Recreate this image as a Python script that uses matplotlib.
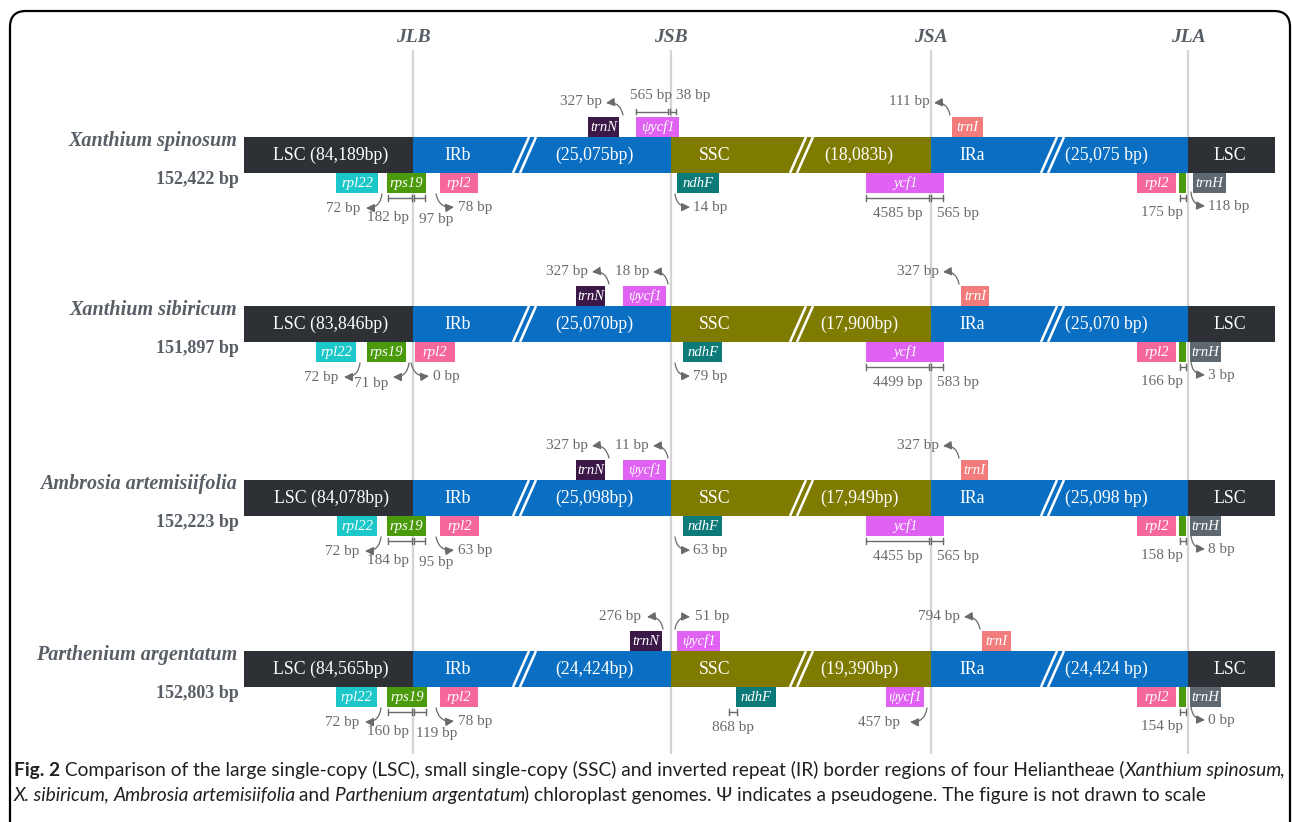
import matplotlib
matplotlib.use("Agg")
import matplotlib.pyplot as plt
from matplotlib.patches import Rectangle, FancyBboxPatch, FancyArrowPatch

# ---------------- data ----------------
species = ["Xanthium spinosum", "Xanthium sibiricum",
           "Ambrosia artemisiifolia", "Parthenium argentatum"]
genome_size = ["152,422 bp", "151,897 bp", "152,223 bp", "152,803 bp"]
lsc_len = ["84,189", "83,846", "84,078", "84,565"]
ir_len = ["25,075", "25,070", "25,098", "24,424"]
ssc_label = ["(18,083b)", "(17,900bp)", "(17,949bp)", "(19,390bp)"]
junctions = ["JLB", "JSB", "JSA", "JLA"]

trnN_bp = [327, 327, 327, 276]
psi_ycf1_top_bp = [(565, 38), (18,), (11,), (51,)]
trnI_bp = [111, 327, 327, 794]
rpl22_bp = [72, 72, 72, 72]
rps19_bp = [(182, 97), (71,), (184, 95), (160, 119)]
rpl2_bp = [78, 0, 63, 78]
ndhF_bp = [14, 79, 63, 868]
ycf1_bp = [(4585, 565), (4499, 583), (4455, 565), (457,)]
rpl2_jla_bp = [175, 166, 158, 154]
trnH_bp = [118, 3, 8, 0]

# ---------------- layout (pixel space) ----------------
W, H = 1292, 822
row_top = [137, 306, 480, 651]
BAR_H = 36
GENE_H = 20
x_start, x_end = 244, 1275
x_junc = [413, 671, 931, 1188]

trnN_x = [(588, 619), (576, 605), (576, 605), (630, 662)]
psi_top_x = [(636, 679), (623, 666), (623, 666), (677, 720)]
trnI_x = [(952, 983), (961, 989), (961, 988), (982, 1011)]
rpl22_x = [(336, 378), (316, 356), (337, 377), (336, 377)]
rps19_x = [(387, 426), (367, 406), (387, 426), (387, 427)]
rpl2_x = [(440, 478), (415, 455), (440, 479), (440, 478)]
ndhF_x = [(677, 719), (683, 722), (683, 722), (736, 776)]
ycf1_x = [(866, 944), (866, 944), (866, 944), (886, 924)]
trnH_x = [(1193, 1226), (1190, 1221), (1190, 1221), (1190, 1221)]

C_LSC = "#2d3135"
C_IR = "#0a6fc2"
C_SSC = "#7f7b00"
C_TRNN = "#3c1848"
C_YCF1 = "#e062f2"
C_TRNI = "#f27c7c"
C_RPL22 = "#1cc7c9"
C_RPS19 = "#4a9a0c"
C_RPL2 = "#f6689b"
C_NDHF = "#0c7a78"
C_TRNH = "#5d6870"
C_NOTE = "#6a6a6a"
C_HEAD = "#585e66"
C_VLINE = "#d4d4d4"

SERIF = ["Liberation Serif", "DejaVu Serif"]
FS_NOTE = 11.0
FS_GENE = 10.5
FS_BAR = 12.8

fig = plt.figure(figsize=(W / 100, H / 100), dpi=100)
ax = fig.add_axes([0, 0, 1, 1])
ax.set_xlim(0, W)
ax.set_ylim(H, 0)
ax.axis("off")

# outer frame (open at the bottom)
ax.add_patch(FancyBboxPatch((10, 11), 1280, 900,
                            boxstyle="round,pad=0,rounding_size=16",
                            fill=False, ec="black", lw=1.6, zorder=1))

# junction lines and titles
for name, xj in zip(junctions, x_junc):
    ax.plot([xj, xj], [50, 754], color=C_VLINE, lw=1.6, zorder=1,
            solid_capstyle="butt")
    ax.text(xj, 37, name, ha="center", va="center", fontsize=14,
            fontweight="bold", fontstyle="italic", color=C_HEAD, family=SERIF)


def gene(x0, x1, y0, color, label):
    ax.add_patch(Rectangle((x0, y0), x1 - x0, GENE_H, fc=color, ec="none",
                           zorder=4))
    if label:
        ax.text((x0 + x1) / 2, y0 + GENE_H / 2 + 0.5, label, ha="center",
                va="center", color="white", fontsize=FS_GENE,
                fontstyle="italic", family=SERIF, zorder=5)


def note(x, y, s, ha="center"):
    ax.text(x, y, s, ha=ha, va="center", fontsize=FS_NOTE, color=C_NOTE,
            family=SERIF, zorder=6)


def curved(x0, y0, x1, y1, rad):
    ax.add_patch(FancyArrowPatch((x0, y0), (x1, y1),
                                 connectionstyle=f"arc3,rad={rad}",
                                 arrowstyle="-|>,head_length=0.5,head_width=0.25",
                                 mutation_scale=10, color=C_NOTE, lw=0.9,
                                 shrinkA=0, shrinkB=0, zorder=6))


def bracket(x0, x1, y, tick=3.5):
    ax.plot([x0, x1], [y, y], color=C_NOTE, lw=1.0, zorder=6)
    for xx in (x0, x1):
        ax.plot([xx, xx], [y - tick, y + tick], color=C_NOTE, lw=1.0, zorder=6)


def slash(xb, t):
    for off in (0, 7):
        ax.plot([xb + off, xb + off + 16], [t + BAR_H, t], color="white",
                lw=1.8, zorder=3, solid_capstyle="butt")


def bp(v):
    return f"{v} bp"


for i, t in enumerate(row_top):
    b = t + BAR_H
    mid = t + BAR_H / 2
    # species names
    ax.text(237, t + 4, species[i], ha="right", va="center", fontsize=14.5,
            fontweight="bold", fontstyle="italic", color=C_HEAD, family=SERIF)
    ax.text(197, t + 42, genome_size[i], ha="center", va="center",
            fontsize=13.0, fontweight="bold", color=C_HEAD, family=SERIF)

    # genome bar segments
    segs = [(x_start, x_junc[0], C_LSC), (x_junc[0], x_junc[1], C_IR),
            (x_junc[1], x_junc[2], C_SSC), (x_junc[2], x_junc[3], C_IR),
            (x_junc[3], x_end, C_LSC)]
    for x0, x1, c in segs:
        ax.add_patch(Rectangle((x0, t), x1 - x0, BAR_H, fc=c, ec="none",
                               zorder=2))
    for xb in (513, 790, 1041):
        slash(xb, t)

    lab = dict(ha="center", va="center", color="white", fontsize=FS_BAR,
               family=SERIF, zorder=5)
    ax.text(331, mid, f"LSC ({lsc_len[i]}bp)", **lab)
    ax.text(458, mid, "IRb", **lab)
    ax.text(594, mid, f"({ir_len[i]}bp)", **lab)
    ax.text(715, mid, "SSC", **lab)
    ax.text(859, mid, ssc_label[i], **lab)
    ax.text(972, mid, "IRa", **lab)
    ax.text(1106, mid, f"({ir_len[i]} bp)", **lab)
    ax.text(1230, mid, "LSC", **lab)

    # genes above the bar
    gt = t - GENE_H
    gene(*trnN_x[i], gt, C_TRNN, "trnN")
    gene(*psi_top_x[i], gt, C_YCF1, "ψycf1")
    gene(*trnI_x[i], gt, C_TRNI, "trnI")

    ty = t - 35
    # trnN
    nx1 = trnN_x[i][1]
    if i == 3:
        curved(nx1 + 1, t - 22, nx1 - 15, ty + 1, 0.45)
        note(nx1 - 21, ty, bp(trnN_bp[i]), ha="right")
    else:
        curved(nx1 + 4, t - 22, nx1 - 13, ty + 1, 0.45)
        note(nx1 - 17, ty, bp(trnN_bp[i]), ha="right")
    # psi-ycf1 on top
    p0, p1 = psi_top_x[i]
    if len(psi_ycf1_top_bp[i]) == 2:
        by = t - 25
        bracket(p0, x_junc[1] - 3, by, tick=2.5)
        bracket(x_junc[1] - 1, x_junc[1] + 5, by, tick=2.5)
        note((p0 + x_junc[1]) / 2 - 2, t - 42, bp(psi_ycf1_top_bp[i][0]))
        note(x_junc[1] + 5, t - 42, bp(psi_ycf1_top_bp[i][1]), ha="left")
    elif i == 3:
        curved(p0 - 2, t - 22, p0 + 13, ty + 1, -0.45)
        note(p0 + 18, ty, bp(psi_ycf1_top_bp[i][0]), ha="left")
    else:
        curved(p1 + 2, t - 22, p1 - 13, ty + 1, 0.45)
        note(p1 - 17, ty, bp(psi_ycf1_top_bp[i][0]), ha="right")
    # trnI
    ix0 = trnI_x[i][0]
    curved(ix0 - 2, t - 22, ix0 - 18, ty + 1, 0.45)
    note(ix0 - 22, ty, bp(trnI_bp[i]), ha="right")

    # genes below the bar
    gene(*rpl22_x[i], b, C_RPL22, "rpl22")
    gene(*rps19_x[i], b, C_RPS19, "rps19")
    gene(*rpl2_x[i], b, C_RPL2, "rpl2")
    gene(*ndhF_x[i], b, C_NDHF, "ndhF")
    gene(*ycf1_x[i], b, C_YCF1, "ψycf1" if i == 3 else "ycf1")
    gene(1137, 1176, b, C_RPL2, "rpl2")
    gene(1179, 1186, b, C_RPS19, "")
    gene(*trnH_x[i], b, C_TRNH, "trnH")

    sy = b + 21          # arrow start just under the gene boxes
    ay = b + 35          # arrow tips and their labels
    by = b + 25          # bracket line
    bty = b + 40         # bracket labels

    # rpl22
    r1 = rpl22_x[i][1]
    curved(r1 + 4, sy, r1 - 12, ay, -0.45)
    note(r1 - 18, ay, bp(rpl22_bp[i]), ha="right")
    # rps19
    s0, s1 = rps19_x[i]
    if len(rps19_bp[i]) == 2:
        bracket(s0 + 1, x_junc[0] - 1, by, tick=3)
        bracket(x_junc[0] + 1, s1 - 1, by, tick=3)
        note(s0 + 1, b + 44, bp(rps19_bp[i][0]))
        note(s1 + 10, b + 46, bp(rps19_bp[i][1]))
    else:
        curved(s1 + 3, sy, s1 - 13, ay, -0.45)
        note(s1 - 35, b + 41, bp(rps19_bp[i][0]))
    # rpl2 in IRb
    q0 = rpl2_x[i][0]
    curved(q0 - 4, sy, q0 + 14, ay - 1, 0.45)
    note(q0 + 18, ay - 1, bp(rpl2_bp[i]), ha="left")
    # ndhF
    if i == 3:
        bracket(729, 737, b + 25, tick=3)
        note(733, b + 40, bp(ndhF_bp[i]))
    else:
        curved(x_junc[1] + 4, sy, x_junc[1] + 19, ay - 1, 0.45)
        note(x_junc[1] + 22, ay - 1, bp(ndhF_bp[i]), ha="left")
    # ycf1
    y0_, y1_ = ycf1_x[i]
    if len(ycf1_bp[i]) == 2:
        bracket(y0_, x_junc[2] - 2, by, tick=3)
        bracket(x_junc[2], y1_ - 1, by, tick=3)
        note((y0_ + x_junc[2]) / 2 - 1, bty, bp(ycf1_bp[i][0]))
        note(x_junc[2] + 27, bty, bp(ycf1_bp[i][1]))
    else:
        curved(y1_ + 3, sy, y1_ - 14, ay, -0.45)
        note(y1_ - 24, ay, bp(ycf1_bp[i][0]), ha="right")
    # rpl2 / rps19 fragment at JLA
    bracket(1180, 1186, by, tick=3)
    note(1162, bty - 1, bp(rpl2_jla_bp[i]))
    # trnH
    curved(x_junc[3] + 3, sy - 2, x_junc[3] + 17, ay - 2, 0.45)
    note(x_junc[3] + 20, ay - 2, bp(trnH_bp[i]), ha="left")

# caption
CAP = ["Lato", "DejaVu Sans"]
line1 = [("Fig. 2", "bold", "normal"),
         (" Comparison of the large single-copy (LSC), small single-copy (SSC) "
          "and inverted repeat (IR) border regions of four Heliantheae (",
          "normal", "normal"),
         ("Xanthium spinosum", "normal", "italic"),
         (",", "normal", "normal")]
line2 = [("X. sibiricum", "normal", "italic"),
         (", ", "normal", "normal"),
         ("Ambrosia artemisiifolia", "normal", "italic"),
         (" and ", "normal", "normal"),
         ("Parthenium argentatum", "normal", "italic"),
         (") chloroplast genomes. Ψ indicates a pseudogene. "
          "The figure is not drawn to scale", "normal", "normal")]

renderer = fig.canvas.get_renderer()
inv = ax.transData.inverted()


def run(parts, x, y, fs, draw=True):
    x_first = x
    texts = []
    for s, w, st in parts:
        tx = ax.text(x, y, s, ha="left", va="center", fontsize=fs,
                     fontweight=w, fontstyle=st, family=CAP, color="#231f20")
        bb = tx.get_window_extent(renderer)
        x = inv.transform((bb.x1, bb.y0))[0]
        if st == "italic":
            x -= 1.5
        texts.append(tx)
    if not draw:
        for tx in texts:
            tx.remove()
    return x - x_first


base = 11.0
width1 = run(line1, 14, 770, base, draw=False)
cap_fs = base * (1287 - 14) / width1
run(line1, 14, 770, cap_fs)
run(line2, 14, 795, cap_fs)

fig.savefig("out.png", dpi=100)
